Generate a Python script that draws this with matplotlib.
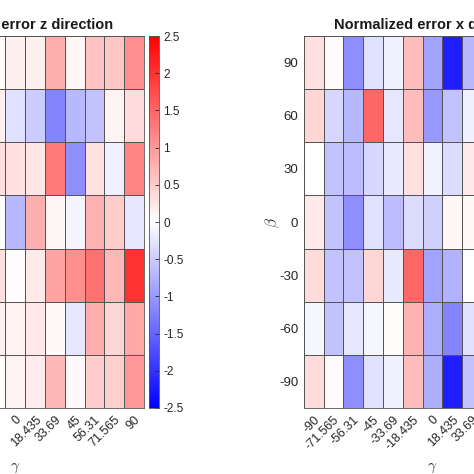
import numpy as np
import matplotlib
matplotlib.use("Agg")
import matplotlib.pyplot as plt
from matplotlib.colors import LinearSegmentedColormap

plt.rcParams['font.family'] = ['Liberation Sans', 'DejaVu Sans']
plt.rcParams['mathtext.fontset'] = 'cm'

gamma = ['-90', '-71.565', '-56.31', '-45', '-33.69', '-18.435', '0',
         '18.435', '33.69', '45', '56.31', '71.565', '90']
beta = ['90', '60', '30', '0', '-30', '-60', '-90']

nan = np.nan
# rows from beta = 90 down to beta = -90; columns outside the crop unknown
err_z_90 = [nan, nan, nan, nan, nan, 0.05, 0.15, 0.15, 0.8, 0.08, 0.6, 0.55, 1.1]
err_z_60 = [nan, nan, nan, nan, nan, 0.15, -0.3, -0.5, -1.2, -0.7, -0.6, 0.1, 0.35]
err_z_30 = [nan, nan, nan, nan, nan, 0.3, 0.3, 0.25, 1.3, -1.1, 0.3, -0.15, 1.2]
err_z_0 = [nan, nan, nan, nan, nan, 0.0, -0.7, 0.8, 0.08, -0.1, 0.75, 0.5, -0.25]
err_z_m30 = [nan, nan, nan, nan, nan, 0.3, 0.03, 0.2, 0.9, 1.1, 1.4, 0.7, 2.0]
err_z_m60 = [nan, nan, nan, nan, nan, 0.15, 0.12, 0.22, 0.06, -0.25, 0.8, 0.4, 0.85]
err_z_m90 = [nan, nan, nan, nan, nan, 0.02, 0.12, 0.18, 0.7, 0.06, 0.5, 0.45, 1.0]

err_x_90 = [0.3, 0.05, -1.1, -0.3, -0.15, 0.65, -0.9, -2.2, -0.7, nan, nan, nan, nan]
err_x_60 = [0.4, -0.4, -0.7, 1.5, -0.25, 0.65, -1.0, -0.6, -0.15, nan, nan, nan, nan]
err_x_30 = [0.0, -0.6, -0.65, -0.4, -0.2, 0.3, -0.12, -0.35, 0.2, nan, nan, nan, nan]
err_x_0 = [0.2, -0.6, -1.1, -0.3, -0.65, -0.35, -0.45, 0.08, 0.06, nan, nan, nan, nan]
err_x_m30 = [0.35, -0.6, -0.6, 0.4, -0.2, 1.5, -0.9, -0.75, 0.0, nan, nan, nan, nan]
err_x_m60 = [-0.08, -0.6, -0.25, -0.08, 0.02, 0.75, -0.8, -1.2, -0.3, nan, nan, nan, nan]
err_x_m90 = [0.35, 0.05, -1.1, -0.3, -0.15, 0.65, -0.8, -2.2, -0.6, nan, nan, nan, nan]

err_z = np.array([err_z_90, err_z_60, err_z_30, err_z_0, err_z_m30, err_z_m60, err_z_m90])
err_x = np.array([err_x_90, err_x_60, err_x_30, err_x_0, err_x_m30, err_x_m60, err_x_m90])

cmap = LinearSegmentedColormap.from_list('bwr_m', [(0, 0, 1), (1, 1, 1), (1, 0, 0)])

W = 474.0
fig = plt.figure(figsize=(4.74, 4.74), dpi=100)


def px(x0, y0, w, h):
    # pixel box (top-left origin) -> figure fraction
    return [x0 / W, (W - y0 - h) / W, w / W, h / W]


def heat(ax, cax, data, title):
    m = ax.pcolormesh(np.ma.masked_invalid(data), cmap=cmap, vmin=-2.5, vmax=2.5,
                      edgecolors='#555555', linewidth=0.6)
    ax.set_xlim(0, len(gamma))
    ax.set_ylim(len(beta), 0)
    ax.set_xticks(np.arange(len(gamma)) + 0.5)
    ax.set_xticklabels(gamma, rotation=45, ha='right', va='top',
                       rotation_mode='anchor', fontsize=9)
    ax.set_yticks(np.arange(len(beta)) + 0.5)
    ax.set_yticklabels(beta, fontsize=9.5)
    ax.tick_params(length=0, pad=4, colors='#262626')
    for s in ax.spines.values():
        s.set_color('#555555')
        s.set_linewidth(0.6)
    ax.set_title(title, fontsize=10.5, fontweight='bold', pad=5, color='#1a1a1a')
    ax.set_xlabel(r'$\gamma$', fontsize=11, labelpad=6, color='#333333')
    ax.set_ylabel(r'$\beta$', fontsize=11, labelpad=-2, color='#333333')
    cb = fig.colorbar(m, cax=cax, ticks=[-2.5, -2, -1.5, -1, -0.5, 0, 0.5, 1, 1.5, 2, 2.5])
    cb.ax.set_yticklabels(['-2.5', '-2', '-1.5', '-1', '-0.5', '0', '0.5', '1', '1.5', '2', '2.5'])
    cb.ax.tick_params(direction='in', length=3, width=0.6, labelsize=8.5, pad=3,
                      colors='#262626')
    cb.outline.set_edgecolor('#555555')
    cb.outline.set_linewidth(0.6)


ax1 = fig.add_axes(px(-113.4, 36, 257.4, 372))
cax1 = fig.add_axes(px(149, 36, 10, 372))
ax2 = fig.add_axes(px(303.7, 36, 257.4, 372))
cax2 = fig.add_axes(px(566, 36, 10, 372))

heat(ax1, cax1, err_z, 'Normalized error z direction')
heat(ax2, cax2, err_x, 'Normalized error x direction')

fig.savefig('out.png', dpi=100)
